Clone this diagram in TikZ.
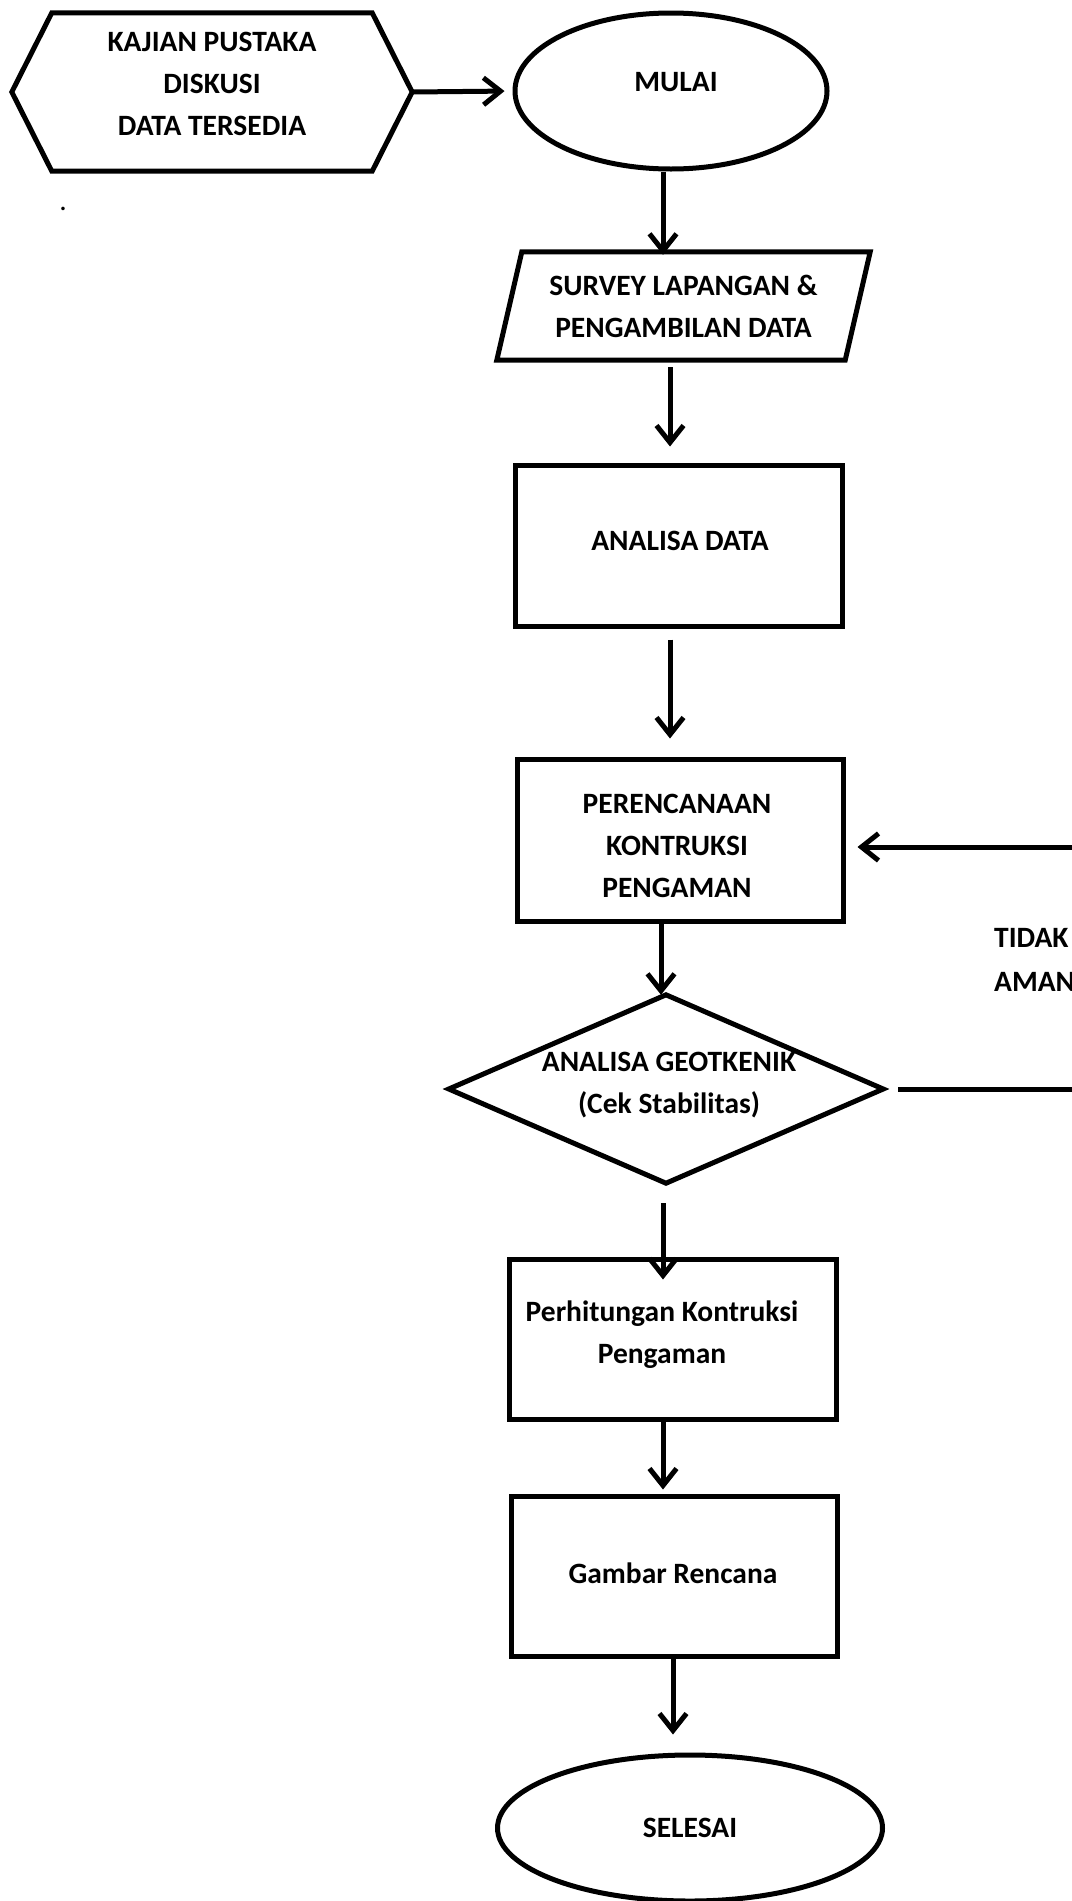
\documentclass[tikz,border=0pt]{standalone}
\usepackage{fontspec}
\setmainfont{Carlito}
\usetikzlibrary{arrows.meta,shapes.geometric,calc}

\begin{document}
\begin{tikzpicture}[x=1pt,y=-1pt,
  every node/.style={font=\fontsize{29.5}{42}\selectfont\bfseries, align=center, inner sep=0pt},
  outline/.style={draw, line width=5pt},
  box/.style={outline, rectangle},
  frame/.style={rectangle},
  arr/.style={line width=5pt, -{Straight Barb[length=17pt,width=27pt,line width=5pt]}}]

\useasboundingbox (0,0) rectangle (1071,1901);

% start: literature hexagon
\node[frame, minimum width=400pt, minimum height=158pt] (kajian) at (212,92) {};
\draw[outline] (kajian.west) -- ([xshift=40pt]kajian.north west) -- ([xshift=-40pt]kajian.north east)
  -- (kajian.east) -- ([xshift=-40pt]kajian.south east) -- ([xshift=40pt]kajian.south west) -- cycle;
\node (kajian-t) at (212,84) {KAJIAN PUSTAKA\\DISKUSI\\DATA TERSEDIA};
\node[font=\fontsize{29.5}{42}\selectfont] (dot) at (63,209) {.};

% terminal: start
\node[outline, ellipse, minimum width=312pt, minimum height=156pt] (mulai) at (671,91) {};
\node (mulai-t) at (676,82) {MULAI};

% field survey (parallelogram)
\node[frame, minimum width=373pt, minimum height=108pt] (survey) at (683.5,306) {SURVEY LAPANGAN \&\\PENGAMBILAN DATA};
\draw[outline] ([xshift=25pt]survey.north west) -- (survey.north east)
  -- ([xshift=-25pt]survey.south east) -- (survey.south west) -- cycle;

% process boxes
\node[box, minimum width=327pt, minimum height=161pt] (analisa) at (678.5,545.5) {};
\node (analisa-t) at (680,541) {ANALISA DATA};
\node[box, minimum width=326pt, minimum height=162pt] (peren) at (680,840) {};
\node (peren-t) at (677,846) {PERENCANAAN\\KONTRUKSI\\PENGAMAN};

% decision
\node[frame, minimum width=434pt, minimum height=188pt] (dia) at (666,1089) {};
\draw[outline] (dia.west) -- (dia.north) -- (dia.east) -- (dia.south) -- cycle;
\node (dia-t) at (669,1085) {ANALISA GEOTKENIK\\(Cek Stabilitas)};

\node[box, minimum width=327pt, minimum height=160pt] (perh) at (672.5,1339) {};
\node (perh-t) at (662,1335) {Perhitungan Kontruksi\\Pengaman};
\node[box, minimum width=326pt, minimum height=160pt] (gambar) at (674,1576) {};
\node (gambar-t) at (673,1573) {Gambar Rencana};

% terminal: end
\node[outline, ellipse, minimum width=385pt, minimum height=146pt] (selesai) at (690,1828) {SELESAI};

% loop label
\node[anchor=west, align=left, font=\fontsize{29.5}{44}\selectfont\bfseries] (tidak) at (994,960) {TIDAK\\AMAN};

% connectors
\draw[arr, shorten >=8pt] (kajian.east) -- (mulai.west);
\draw[arr, shorten >=-3pt] ([xshift=-8pt]mulai.south) -- ([xshift=-8pt]mulai.south |- survey.north);
\draw[arr, shorten <=7pt, shorten >=16pt] ([xshift=-13.5pt]survey.south) -- ([xshift=-13.5pt]survey.south |- analisa.north);
\draw[arr, shorten <=11pt, shorten >=18pt] ([xshift=-8.5pt]analisa.south) -- ([xshift=-8.5pt]analisa.south |- peren.north);
\draw[arr] ([xshift=-19pt]peren.south) -- ([xshift=-19pt]peren.south |- dia.north);
\draw[arr, shorten <=20pt, shorten >=-23pt] ([xshift=-3pt]dia.south) -- ([xshift=-3pt]dia.south |- perh.north);
\draw[arr, shorten >=4pt] ([xshift=-9.5pt]perh.south) -- ([xshift=-9.5pt]perh.south |- gambar.north);
\draw[arr, shorten >=18pt] ([xshift=-1pt]gambar.south) -- ([xshift=-1pt]gambar.south |- selesai.north);

% return path when not safe
\coordinate (r1) at (1100,1089);
\coordinate (r2) at (1100,847);
\draw[arr, shorten <=15pt, shorten >=12pt] (dia.east) -- (r1) -- (r2) -- (r2 -| peren.east);

\end{tikzpicture}
\end{document}
